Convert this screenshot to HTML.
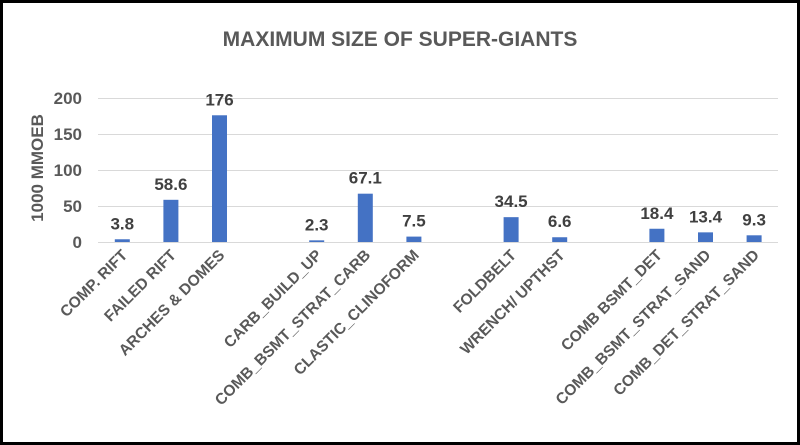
<!DOCTYPE html>
<html><head><style>
body{margin:0;background:#fff;}
svg{display:block;font-family:"Liberation Sans",sans-serif;}
</style></head><body>
<svg width="800" height="445" viewBox="0 0 800 445">
<rect x="1.5" y="1.5" width="797" height="442" fill="#fff" stroke="#000" stroke-width="3"/>
<text x="400" y="46" text-anchor="middle" font-size="21" font-weight="bold" fill="#595959">MAXIMUM SIZE OF SUPER-GIANTS</text>
<g stroke="#d9d9d9" stroke-width="1">
<line x1="98" x2="778" y1="98.5" y2="98.5"/>
<line x1="98" x2="778" y1="134.5" y2="134.5"/>
<line x1="98" x2="778" y1="170.5" y2="170.5"/>
<line x1="98" x2="778" y1="206.5" y2="206.5"/>
<line x1="98" x2="778" y1="242.5" y2="242.5"/>
</g>
<g font-size="17" font-weight="bold" fill="#595959" text-anchor="end">
<text x="82" y="104">200</text><text x="82" y="140">150</text><text x="82" y="176">100</text><text x="82" y="212">50</text><text x="82" y="248">0</text>
</g>
<text transform="translate(43,168) rotate(-90)" text-anchor="middle" font-size="17" font-weight="bold" fill="#595959">1000 MMOEB</text>
<g fill="#4472c4" id="bars"></g>
<g id="vals" font-size="17" font-weight="bold" fill="#404040" text-anchor="middle"></g>
<g id="labs" font-size="15.5" font-weight="bold" fill="#595959" text-anchor="end"></g>
</svg>
<script>
var d=[[0,3.8,"COMP. RIFT"],[1,58.6,"FAILED RIFT"],[2,176,"ARCHES & DOMES"],[4,2.3,"CARB_BUILD_UP"],[5,67.1,"COMB_BSMT_STRAT_CARB"],[6,7.5,"CLASTIC_CLINOFORM"],[8,34.5,"FOLDBELT"],[9,6.6,"WRENCH/ UPTHST"],[11,18.4,"COMB BSMT_DET"],[12,13.4,"COMB_BSMT_STRAT_SAND"],[13,9.3,"COMB_DET_STRAT_SAND"]];
var ns="http://www.w3.org/2000/svg";
function el(t,a,p,txt){var e=document.createElementNS(ns,t);for(var k in a)e.setAttribute(k,a[k]);if(txt)e.textContent=txt;document.getElementById(p).appendChild(e);}
d.forEach(function(r){var cx=98+48.6*(r[0]+0.5),h=r[1]*0.72;
el("rect",{x:cx-7.5,y:242-h,width:15,height:h},"bars");
el("text",{x:cx,y:242-h-10},"vals",String(r[1]));
el("text",{x:0,y:0,transform:"translate("+(cx+6)+",256) rotate(-45)"},"labs",r[2]);});
</script>
</body></html>
